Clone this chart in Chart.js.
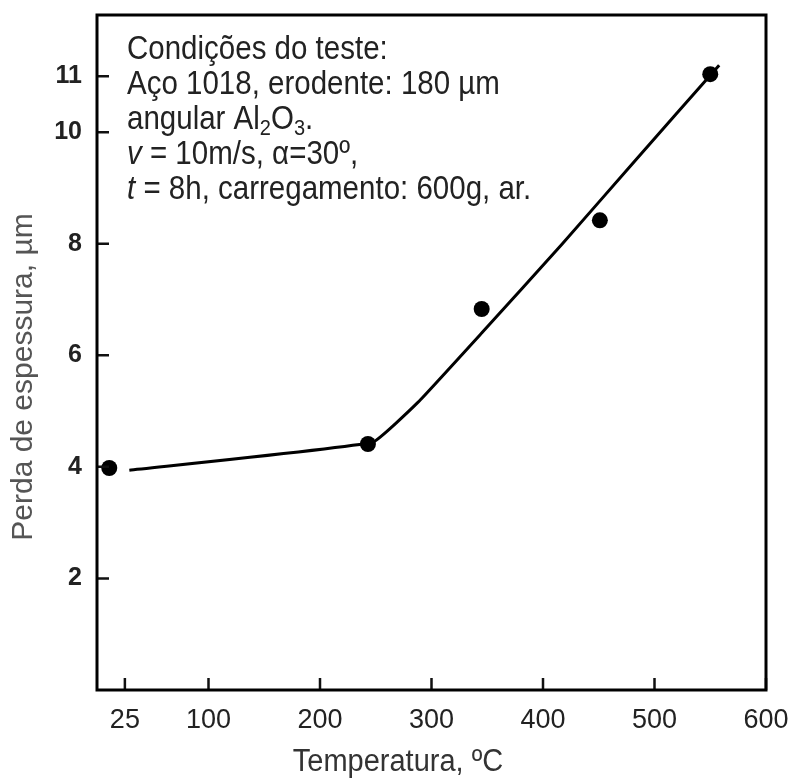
<!DOCTYPE html>
<html>
<head>
<meta charset="utf-8">
<script src="https://cdn.jsdelivr.net/npm/chart.js@4/dist/chart.umd.min.js"></script>
<style>
  html, body { margin: 0; padding: 0; background: #fff; }
  #wrap { width: 788px; height: 778px; }
</style>
</head>
<body>
<div id="wrap"><canvas id="chart"></canvas></div>
<script>
// valores
const xTicks = [25, 100, 200, 300, 400, 500, 600];
const yTicks = [2, 4, 6, 8, 10, 11];
const tempPoints = [11, 243, 345, 451, 550];
const lossPoints = [3.98, 4.41, 6.83, 8.42, 11.04];
const fitTemp = [29, 247, 288, 345, 417, 480, 558];
const fitLoss = [3.94, 4.44, 5.16, 6.40, 7.99, 9.43, 11.2];

const xTitle = 'Temperatura, ºC';
const yTitle = 'Perda de espessura, µm';
const noteLines = [
    [{ t: 'Condições do teste:' }],
    [{ t: 'Aço 1018, erodente: 180 µm' }],
    [{ t: 'angular Al' }, { t: '2', sub: true }, { t: 'O' }, { t: '3', sub: true }, { t: '.' }],
    [{ t: 'v', it: true }, { t: ' = 10m/s, α=30º,' }],
    [{ t: 't', it: true }, { t: ' = 8h, carregamento: 600g, ar.' }]
];

const FONT = "'Liberation Sans', Arial, sans-serif";

const frame = {
    id: 'frame',
    afterDraw(chart) {
        const ctx = chart.ctx;
        const a = chart.chartArea;
        const xs = chart.scales.x, ys = chart.scales.y;
        ctx.save();
        // ticks para dentro
        ctx.strokeStyle = '#111';
        ctx.lineWidth = 2.5;
        ctx.beginPath();
        xTicks.forEach(v => {
            const px = xs.getPixelForValue(v);
            ctx.moveTo(px, a.bottom);
            ctx.lineTo(px, a.bottom - 12);
        });
        yTicks.forEach(v => {
            const py = ys.getPixelForValue(v);
            ctx.moveTo(a.left, py);
            ctx.lineTo(a.left + 12, py);
        });
        ctx.stroke();
        // moldura
        ctx.lineWidth = 3;
        ctx.strokeStyle = '#000';
        ctx.strokeRect(a.left, a.top, a.right - a.left, a.bottom - a.top);

        // títulos dos eixos
        ctx.fillStyle = '#333';
        ctx.font = '29px ' + FONT;
        ctx.textAlign = 'center';
        ctx.textBaseline = 'middle';
        ctx.save();
        ctx.translate(398, 762);
        ctx.scale(1, 1.1);
        ctx.fillText(xTitle, 0, 0);
        ctx.restore();
        ctx.save();
        ctx.translate(24, 377);
        ctx.rotate(-Math.PI / 2);
        ctx.fillStyle = '#555';
        ctx.font = '30px ' + FONT;
        ctx.fillText(yTitle, 0, 0);
        ctx.restore();

        // caixa de texto
        ctx.textAlign = 'left';
        ctx.textBaseline = 'alphabetic';
        ctx.fillStyle = '#222';
        noteLines.forEach((line, i) => {
            let x = 127;
            const y = 59 + i * 35;
            line.forEach(seg => {
                let size = 29.5, dy = 0;
                if (seg.sub) { size = 20; dy = 6; }
                ctx.font = (seg.it ? 'italic ' : '') + size + 'px ' + FONT;
                ctx.save();
                ctx.translate(x, y + dy);
                ctx.scale(1, 1.12);
                ctx.fillText(seg.t, 0, 0);
                ctx.restore();
                x += ctx.measureText(seg.t).width;
            });
        });
        ctx.restore();
    }
};

new Chart(document.getElementById('chart'), {
    type: 'scatter',
    data: {
        datasets: [{
            label: 'ajuste',
            data: fitTemp.map((t, i) => ({ x: t, y: fitLoss[i] })),
            showLine: true,
            borderColor: '#000',
            borderWidth: 3,
            pointRadius: 0,
            tension: 0.1
        }, {
            label: 'medido',
            data: tempPoints.map((t, i) => ({ x: t, y: lossPoints[i] })),
            backgroundColor: '#000',
            borderColor: '#000',
            pointRadius: 8,
            pointBorderWidth: 0
        }]
    },
    options: {
        responsive: true,
        maintainAspectRatio: false,
        animation: false,
        layout: { padding: { top: 15, right: 22, left: 0, bottom: 0 } },
        plugins: { legend: { display: false }, tooltip: { enabled: false } },
        scales: {
            x: {
                type: 'linear',
                min: 0,
                max: 600,
                afterBuildTicks: s => { s.ticks = xTicks.map(v => ({ value: v })); },
                afterFit: s => { s.height = 88; s.paddingLeft = 0; s.paddingRight = 0; },
                grid: { display: false, drawTicks: false },
                border: { display: false },
                ticks: {
                    autoSkip: false,
                    maxRotation: 0,
                    padding: 14,
                    color: '#222',
                    font: { family: FONT, size: 27 }
                }
            },
            y: {
                type: 'linear',
                min: 0,
                max: 12.1,
                afterBuildTicks: s => { s.ticks = yTicks.map(v => ({ value: v })); },
                afterFit: s => { s.width = 97; s.paddingTop = 0; s.paddingBottom = 0; },
                grid: { display: false, drawTicks: false },
                border: { display: false },
                ticks: {
                    autoSkip: false,
                    padding: 15,
                    color: '#222',
                    font: { family: FONT, size: 25, weight: 'bold' }
                }
            }
        }
    },
    plugins: [frame]
});
</script>
</body>
</html>
